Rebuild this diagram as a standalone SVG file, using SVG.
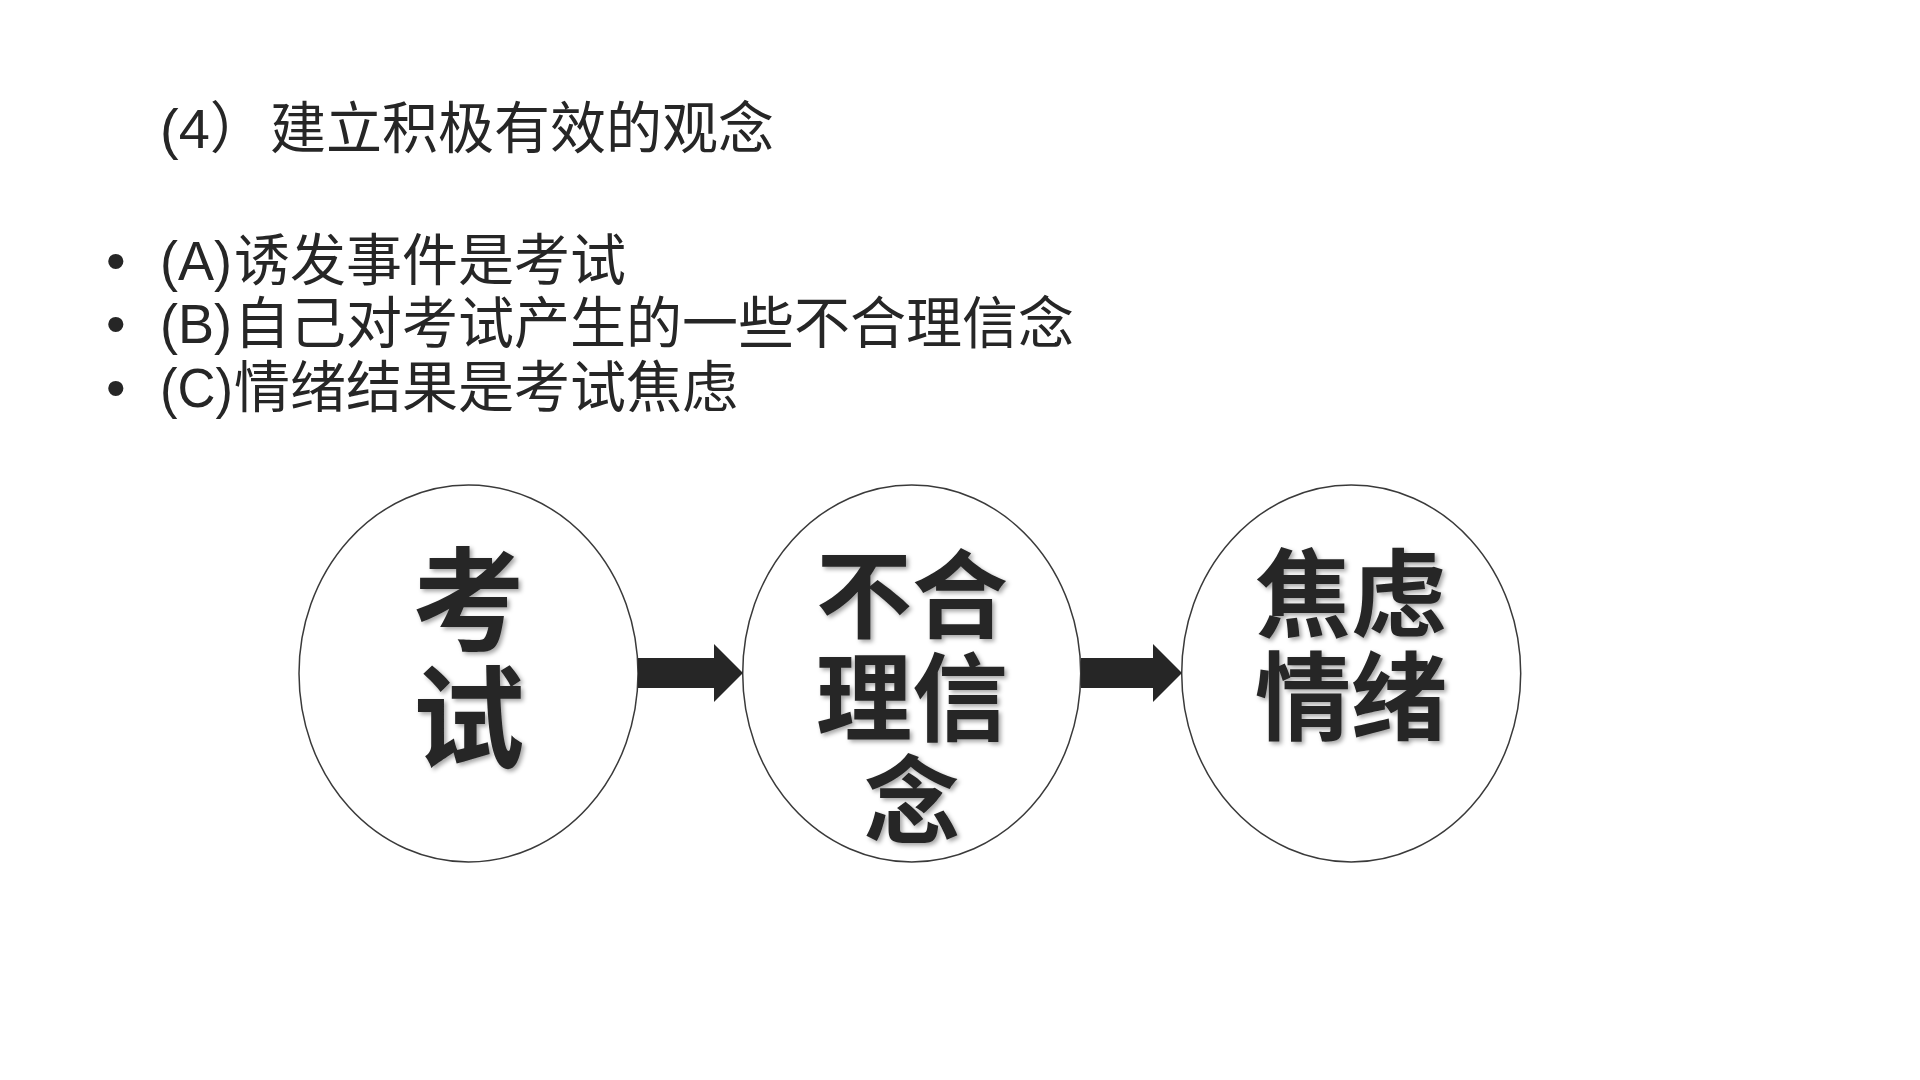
<svg xmlns="http://www.w3.org/2000/svg" width="1920" height="1080" viewBox="0 0 1920 1080">
  <defs>
    <filter id="shadow" x="-10%" y="-10%" width="130%" height="130%">
      <feDropShadow dx="2.5" dy="2.5" stdDeviation="2" flood-color="#000" flood-opacity="0.35"/>
    </filter>
  </defs>
  <style>
    .body { font-family: "Liberation Sans", "Noto Sans CJK SC", sans-serif; font-size: 56px; fill: #262626; }
    .node-shape { fill: #ffffff; stroke: #3a3a3a; stroke-width: 1.5; }
    .node-label { font-family: "Noto Sans CJK SC", "Liberation Sans", sans-serif; font-weight: bold; fill: #262626; text-anchor: middle; filter: url(#shadow); }
    .arrow { fill: #262626; }
  </style>
  <rect x="0" y="0" width="1920" height="1080" fill="#ffffff"/>

  <g id="title">
    <text class="body" x="160" y="148">(4）<tspan x="270">建立积极有效的观念</tspan></text>
  </g>

  <g id="bullets">
    <text class="body" x="106" y="280">•</text>
    <text class="body" x="160" y="280" textLength="72" lengthAdjust="spacingAndGlyphs">(A)</text>
    <text class="body" x="234" y="280">诱发事件是考试</text>
    <text class="body" x="106" y="343">•</text>
    <text class="body" x="160" y="343" textLength="72" lengthAdjust="spacingAndGlyphs">(B)</text>
    <text class="body" x="234" y="343">自己对考试产生的一些不合理信念</text>
    <text class="body" x="106" y="407">•</text>
    <text class="body" x="160" y="407" textLength="73" lengthAdjust="spacingAndGlyphs">(C)</text>
    <text class="body" x="234" y="407">情绪结果是考试焦虑</text>
  </g>

  <g id="node-exam">
    <ellipse class="node-shape" cx="468.5" cy="673.5" rx="169.5" ry="188.5"/>
    <text class="node-label" font-size="112" x="468.5" y="642">考</text>
    <text class="node-label" font-size="112" x="468.5" y="760">试</text>
  </g>

  <g id="node-belief">
    <ellipse class="node-shape" cx="911.7" cy="673.5" rx="169" ry="188.5"/>
    <text class="node-label" font-size="96" x="912" y="630">不合</text>
    <text class="node-label" font-size="96" x="912" y="733">理信</text>
    <text class="node-label" font-size="96" x="912" y="836">念</text>
  </g>

  <g id="node-anxiety">
    <ellipse class="node-shape" cx="1351.2" cy="673.5" rx="169.5" ry="188.5"/>
    <text class="node-label" font-size="96" x="1351" y="629">焦虑</text>
    <text class="node-label" font-size="96" x="1351" y="732">情绪</text>
  </g>

  <g id="connectors">
    <polygon class="arrow" points="638,658 714,658 714,644 743,673 714,702 714,688 638,688"/>
    <polygon class="arrow" points="1081,658 1153,658 1153,644 1182,673 1153,702 1153,688 1081,688"/>
  </g>
</svg>
